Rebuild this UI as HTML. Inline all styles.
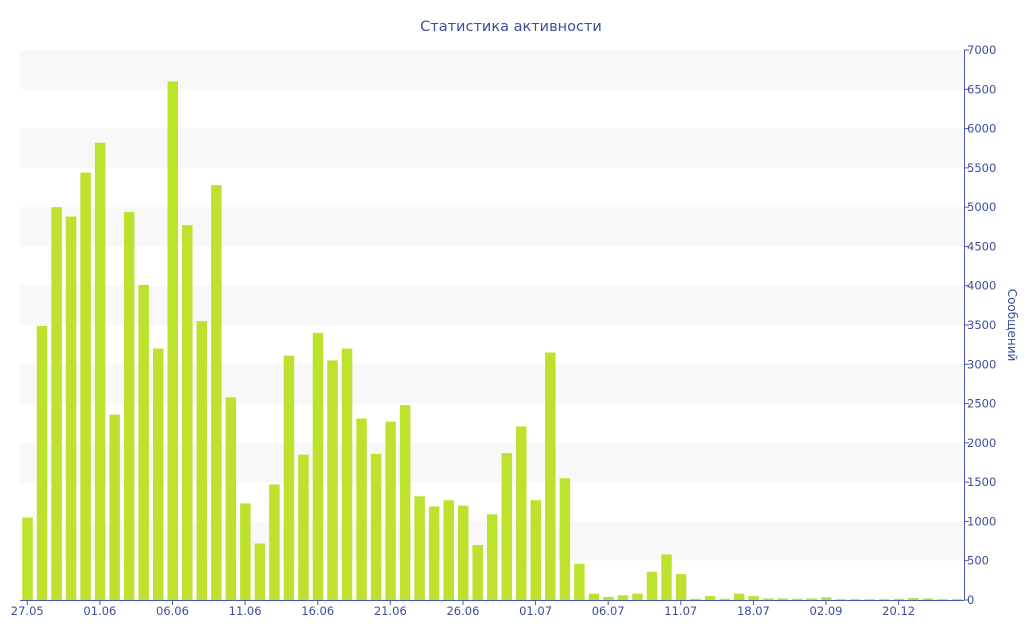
<!DOCTYPE html>
<html><head><meta charset="utf-8"><style>
body{margin:0;background:#fff}
svg{display:block;font-family:"DejaVu Sans","Liberation Sans",sans-serif}
</style></head><body>
<svg id="c" width="1024" height="640">
<text x="511" y="31" text-anchor="middle" font-size="14.5" fill="#3d4d9c">Статистика активности</text>
<g id="bands"></g><g id="bars"></g><g id="axis"></g>
<text transform="translate(1008,325) rotate(90)" text-anchor="middle" font-size="12" fill="#3d4d9c">Сообщений</text>
</svg>
<script>
const values=[1050,3490,5000,4880,5440,5820,2360,4940,4010,3200,6600,4770,3550,5280,2580,1230,720,1470,3110,1850,3400,3050,3200,2310,1860,2270,2480,1320,1190,1270,1200,700,1090,1870,2210,1270,3150,1550,460,80,40,60,80,360,580,330,15,50,15,80,50,20,20,15,20,35,10,10,10,10,15,25,20,10,10];
const xLabels=["27.05","01.06","06.06","11.06","16.06","21.06","26.06","01.07","06.07","11.07","18.07","02.09","20.12"];
const yTicks=[0,500,1000,1500,2000,2500,3000,3500,4000,4500,5000,5500,6000,6500,7000];
const NS="http://www.w3.org/2000/svg";
const L=20,R=964,T=50,B=600,maxV=7000;
const step=(R-L)/values.length;
const y=v=>B-(v/maxV)*(B-T);
const x=i=>L+step*(i+0.5);
function mk(t,a,p){const e=document.createElementNS(NS,t);for(const k in a)e.setAttribute(k,a[k]);p.appendChild(e);return e;}
const bands=document.getElementById('bands'),bars=document.getElementById('bars'),ax=document.getElementById('axis');
for(let v=500;v<maxV;v+=1000){
 const r=mk('rect',{x:L,y:y(v+500),width:R-L,height:y(v)-y(v+500),fill:'#f8f8f8'},bands);
 
 
}
values.forEach((v,i)=>{
 const r=mk('rect',{x:x(i)-5,y:y(v),width:10.5,height:B-y(v),fill:'#bde22e'},bars);
 
 
});
mk('line',{x1:L,x2:R,y1:B+0.5,y2:B+0.5,stroke:'#4a5aa8'},ax);
mk('line',{x1:R+0.5,x2:R+0.5,y1:T,y2:B,stroke:'#4a5aa8'},ax);
yTicks.forEach(v=>{
 mk('line',{x1:R,x2:R+5,y1:y(v),y2:y(v),stroke:'#4a5aa8'},ax);
 const t=mk('text',{x:R+3,y:y(v)+4,'font-size':11.5,fill:'#3d4d9c'},ax);
 t.textContent=v;
 
 
});
xLabels.forEach((s,k)=>{
 const i=k*5;
 mk('line',{x1:x(i),x2:x(i),y1:B,y2:B+5,stroke:'#4a5aa8'},ax);
 const t=mk('text',{x:x(i),y:B+15,'font-size':11.5,fill:'#3d4d9c','text-anchor':'middle'},ax);
 t.textContent=s;
 
 
});
</script>
</body></html>
